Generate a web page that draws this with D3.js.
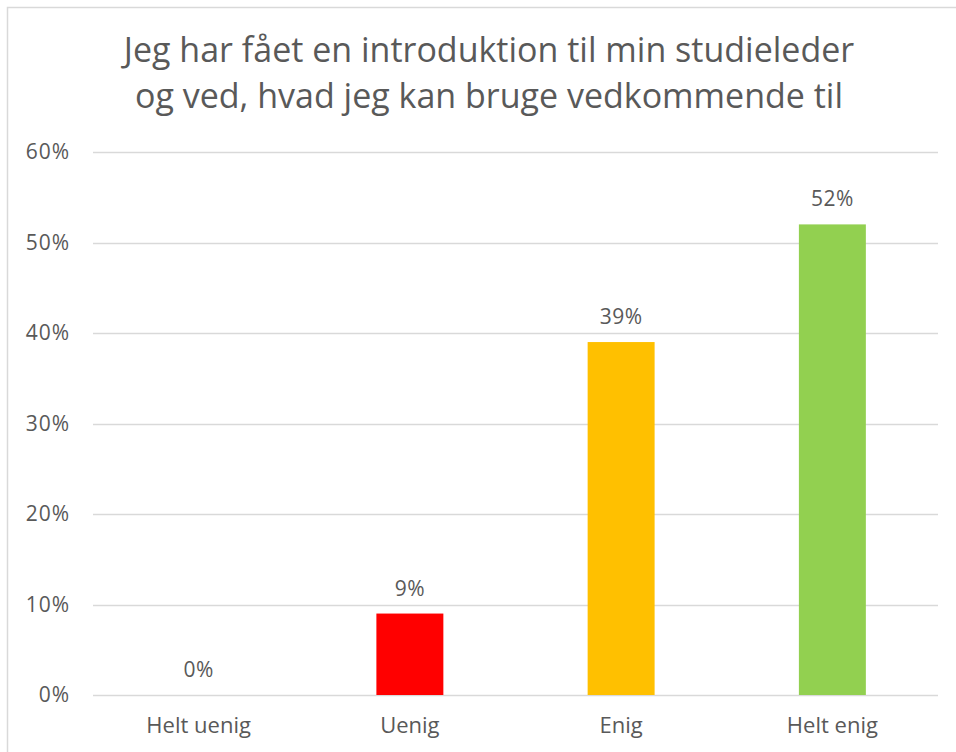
<!DOCTYPE html>
<html>
<head>
<meta charset="utf-8">
<script src="https://cdn.jsdelivr.net/npm/d3@7"></script>
<style>
  body { margin: 0; background: #fff; }
  text { font-family: "Open Sans", "Noto Sans", sans-serif; fill: #595959; }
</style>
</head>
<body>
<div id="chart"></div>
<script>
// data
var categories = ["Helt uenig", "Uenig", "Enig", "Helt enig"];
var values = [0, 0.09, 0.39, 0.52];
var barColors = ["#ff0000", "#ff0000", "#ffc000", "#92d050"];
var yTicks = [0, 0.1, 0.2, 0.3, 0.4, 0.5, 0.6];
var titleLines = ["Jeg har fået en introduktion til min studieleder", "og ved, hvad jeg kan bruge vedkommende til"];

var width = 956, height = 752;
var plot = { left: 93, right: 938, top: 152, bottom: 695 };

var svg = d3.select("#chart").append("svg")
	.attr("width", width)
	.attr("height", height);

// chart frame
svg.append("rect")
	.attr("x", 7.5).attr("y", 7.5)
	.attr("width", width + 20).attr("height", height + 20)
	.attr("fill", "#fff")
	.attr("stroke", "#d9d9d9")
	.attr("stroke-width", 1.5);

var x = d3.scaleBand()
	.domain(categories)
	.range([plot.left, plot.right])
	.paddingInner(0.683)
	.paddingOuter(0.3415);

var y = d3.scaleLinear()
	.domain([0, 0.6])
	.range([plot.bottom, plot.top]);

// gridlines
svg.append("g")
	.selectAll("line")
	.data(yTicks)
	.enter()
	.append("line")
	.attr("x1", plot.left).attr("x2", plot.right)
	.attr("y1", function (d) { return Math.round(y(d)) + 0.5; })
	.attr("y2", function (d) { return Math.round(y(d)) + 0.5; })
	.attr("stroke", "#d9d9d9")
	.attr("stroke-width", 1.5);

// y tick labels
svg.append("g")
	.selectAll("text")
	.data(yTicks)
	.enter()
	.append("text")
	.attr("x", 70)
	.attr("y", function (d) { return y(d); })
	.attr("dy", "0.35em")
	.attr("text-anchor", "end")
	.style("font-size", "21px")
	.style("letter-spacing", "1px")
	.text(d3.format(".0%"));

// bars
svg.append("g")
	.selectAll("rect")
	.data(values)
	.enter()
	.append("rect")
	.attr("x", function (d, i) { return x(categories[i]); })
	.attr("y", function (d) { return y(d); })
	.attr("width", x.bandwidth())
	.attr("height", function (d) { return y(0) - y(d); })
	.attr("fill", function (d, i) { return barColors[i]; });

// value labels
svg.append("g")
	.selectAll("text")
	.data(values)
	.enter()
	.append("text")
	.attr("x", function (d, i) { return x(categories[i]) + x.bandwidth() / 2; })
	.attr("y", function (d) { return y(d) - 18; })
	.attr("text-anchor", "middle")
	.style("font-size", "21px")
	.style("letter-spacing", "0.5px")
	.text(d3.format(".0%"));

// category labels
svg.append("g")
	.selectAll("text")
	.data(categories)
	.enter()
	.append("text")
	.attr("x", function (d) { return x(d) + x.bandwidth() / 2; })
	.attr("y", 733)
	.attr("text-anchor", "middle")
	.style("font-size", "22px")
	.text(function (d) { return d; });

// title
svg.append("g")
	.selectAll("text")
	.data(titleLines)
	.enter()
	.append("text")
	.attr("x", 489)
	.attr("y", function (d, i) { return 62 + i * 46; })
	.attr("text-anchor", "middle")
	.style("font-size", "34px")
	.text(function (d) { return d; });
</script>
</body>
</html>
